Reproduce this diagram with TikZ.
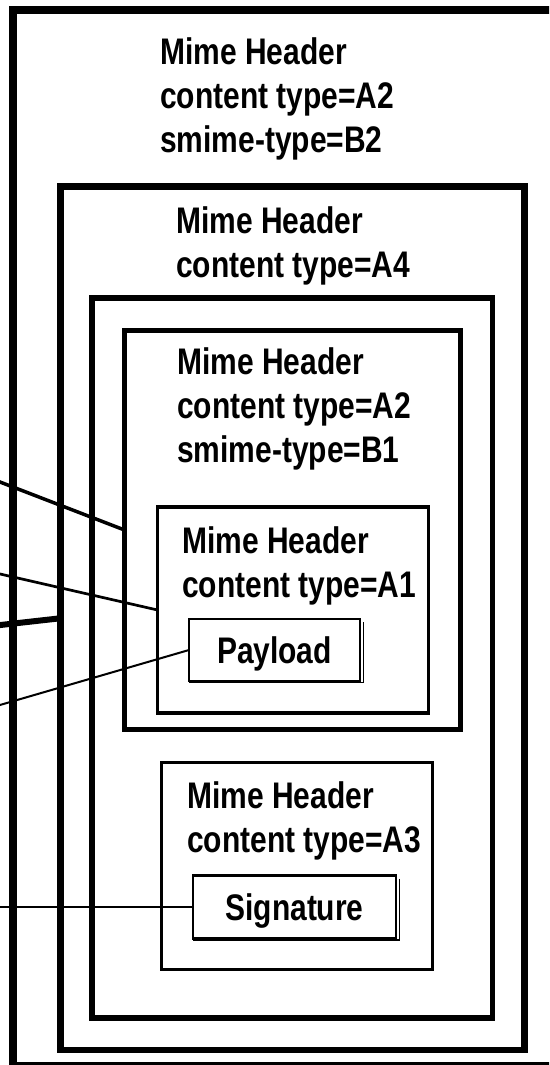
\documentclass[tikz,border=0pt]{standalone}
\usepackage{fontspec}
\setmainfont{Liberation Sans}[FakeStretch=0.81]
\usetikzlibrary{positioning}
\usetikzlibrary{calc}

\begin{document}
\begin{tikzpicture}[x=1pt,y=-1pt,
      box/.style={draw,rectangle,inner sep=0pt,outer sep=0pt,anchor=north west},
      header/.style={anchor=base west,align=left,inner sep=0pt,
                     font=\bfseries\fontsize{37}{44}\selectfont},
      part/.style={draw,rectangle,inner sep=0pt,outer sep=0pt,line width=2.3pt,
                   text depth=0pt,font=\bfseries\fontsize{37}{44}\selectfont},
      shade/.style={line width=1.5pt}]

  \useasboundingbox (0,0) rectangle (549,1065);
  \clip (0,0) rectangle (549,1065);

  % nested mime parts
  \node[box,line width=8.7pt,minimum width=543pt,minimum height=1056pt] (outer) at (13,10) {};
  \node[box,line width=6.7pt,minimum width=464pt,minimum height=863.5pt] (signed) at (60.5,186.5) {};
  \node[box,line width=5.7pt,minimum width=400.5pt,minimum height=720pt] (multi) at (92,298) {};
  \node[box,line width=4.7pt,minimum width=336pt,minimum height=399pt] (enveloped) at (124.5,330.5) {};
  \node[box,line width=3.3pt,minimum width=271pt,minimum height=206pt] (data) at (157.5,507) {};
  \node[box,line width=3pt,minimum width=271pt,minimum height=207pt] (sigpart) at (161,762.5) {};

  % headers (placed at the baseline of their last line)
  \node[header] (h1) at (160,152) {Mime Header\\content type=A2\\smime-type=B2};
  \node[header] (h2) at (176,277) {Mime Header\\content type=A4};
  \node[header] (h3) at (177,462) {Mime Header\\content type=A2\\smime-type=B1};
  \node[header] (h4) at (182,597) {Mime Header\\content type=A1};
  \node[header] (h5) at (187,852) {Mime Header\\content type=A3};

  % contents
  \node[part,minimum width=171pt,minimum height=61.5pt] (payload) at (274.5,650) {Payload};
  \node[part,minimum width=203pt,minimum height=63pt] (signature) at (294.5,907) {Signature};
  \draw[shade] ([xshift=3.5pt,yshift=-3pt]payload.north east) -- ([xshift=3.5pt,yshift=-1.5pt]payload.south east) -- ([yshift=-1.5pt]payload.south west);
  \draw[shade] ([xshift=3.5pt,yshift=-3pt]signature.north east) -- ([xshift=3.5pt,yshift=-1.5pt]signature.south east) -- ([yshift=-1.5pt]signature.south west);

  % links from the left
  \coordinate (l1) at (-20,474.3);
  \coordinate (l2) at (-20,569.4);
  \coordinate (l3) at (-20,627.3);
  \coordinate (l4) at (-20,710.8);
  \coordinate (l5) at (-20,907);
  \draw[line width=3.5pt] (l1) -- (enveloped.west);
  \draw[line width=2.7pt] (l2) -- (data.west);
  \draw[line width=6pt] (l3) -- (signed.west);
  \draw[line width=2pt] (l4) -- (payload.west);
  \draw[line width=1.7pt] (l5) -- (signature.west);
\end{tikzpicture}
\end{document}
